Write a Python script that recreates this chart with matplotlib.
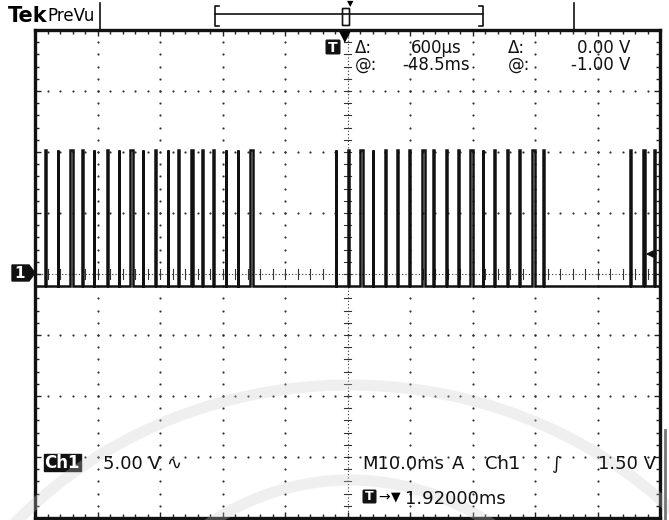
import matplotlib
matplotlib.use("Agg")
from matplotlib import pyplot as plt
from matplotlib.patches import Polygon, FancyBboxPatch, Arc
import numpy as np

pulse_starts = [-48.4, -46.4, -44.4, -42.5, -40.6, -38.5, -36.6, -34.8, -32.8,
                -30.8, -28.8, -27.1, -25.1, -23.3, -21.5, -19.5, -17.6, -15.6,
                -1.9, 0.1, 2.0, 4.0, 6.0, 7.9, 9.9, 11.9, 13.7,
                15.8, 17.7, 19.6, 21.6, 23.5, 25.5, 27.5, 29.5, 31.3,
                45.2, 47.2, 49.0]
pulse_widths = [0.12, 0.12, 0.45, 0.12, 0.12, 0.12, 0.12, 0.45, 0.12,
                0.12, 0.12, 0.12, 0.45, 0.12, 0.12, 0.12, 0.12, 0.45,
                0.12, 0.12, 0.45, 0.12, 0.12, 0.12, 0.12, 0.45, 0.12,
                0.12, 0.12, 0.45, 0.12, 0.12, 0.12, 0.12, 0.45, 0.12,
                0.12, 0.45, 0.12]
low_level = -1.0    # V
high_level = 10.2   # V

# Build the trace from the pulse list
t = [-50.0]
v = [low_level]
for s, w in zip(pulse_starts, pulse_widths):
    t += [s, s, s + w, s + w]
    v += [low_level, high_level, high_level, low_level]
t.append(50.0)
v.append(low_level)

W, H = 669, 520
fig = plt.figure(figsize=(W / 100, H / 100), dpi=100)
fig.patch.set_facecolor("white")

FONT = ["DejaVu Sans"]

# Screen axes: 10 ms/div, 5 V/div
x0, x1, y0, y1 = 35, 660, 30, 518
ax = fig.add_axes([x0 / W, 1 - y1 / H, (x1 - x0) / W, (y1 - y0) / H])
ax.set_xlim(-50, 50)
ax.set_ylim(-20, 20)
for s in ['top', 'bottom', 'left', 'right']:
    ax.spines[s].set_linewidth(2.4)
    ax.spines[s].set_color("#111111")

# Border ticks
ax.set_xticks(np.arange(-50, 51, 10))
ax.set_yticks(np.arange(-20, 21, 5))
ax.set_xticks(np.arange(-50, 51, 2), minor=True)
ax.set_yticks(np.arange(-20, 21, 1), minor=True)
ax.tick_params(which='both', direction='in', top=True, right=True,
               labelbottom=False, labelleft=False, color="#222222")
ax.tick_params(which='major', length=4, width=1)
ax.tick_params(which='minor', length=3, width=1)

# Graticule dots
dot_kw = dict(s=2.5, color="#333333", linewidths=0, zorder=1)
for gx in np.arange(-40, 41, 10):
    if gx == 0:
        continue
    ys = np.arange(-19, 20, 1)
    ax.scatter(np.full(len(ys), gx), ys, **dot_kw)
for gy in np.arange(-15, 16, 5):
    if gy == 0:
        continue
    xs = np.arange(-48, 49, 2)
    ax.scatter(xs, np.full(len(xs), gy), **dot_kw)

# Center cross with small ticks
ax.axhline(0, color="#333333", lw=0.8, ls=(0, (1, 2)), zorder=1)
ax.axvline(0, color="#333333", lw=0.8, ls=(0, (1, 2)), zorder=1)
for tx in np.arange(-48, 49, 2):
    ax.plot([tx, tx], [-0.4, 0.4], color="#333333", lw=0.8, zorder=1)
for ty in np.arange(-19, 20, 1):
    ax.plot([-0.5, 0.5], [ty, ty], color="#333333", lw=0.8, zorder=1)

# Waveform
ax.plot(t, v, color="#111111", lw=1.8, solid_joinstyle='miter', zorder=3)

# Overlay for the readouts, in pixel coordinates
ov = fig.add_axes([0, 0, 1, 1], facecolor="none")
ov.set_xlim(0, W)
ov.set_ylim(H, 0)
ov.axis("off")

txt = dict(fontsize=12, family=FONT, color="#111111", va="baseline")
txtb = dict(fontsize=13, family=FONT, color="#111111", va="baseline")

# Top status bar
ov.text(8, 22, "Tek", fontsize=15, fontweight="bold", family=FONT, va="baseline")
ov.text(47, 21, "PreVu", fontsize=12, family=FONT, va="baseline")
ov.plot([100, 100], [3, 29], color="#111111", lw=1.2)
ov.plot([574, 574], [3, 29], color="#111111", lw=1.2)
ov.plot([215, 483], [14, 14], color="#111111", lw=1.2)
ov.plot([219, 215, 215, 219], [6, 6, 26, 26], color="#111111", lw=1.2)
ov.plot([479, 483, 483, 479], [6, 6, 26, 26], color="#111111", lw=1.2)
ov.add_patch(FancyBboxPatch((343, 9), 6, 16, boxstyle="round,pad=0.5",
                            fc="white", ec="#111111", lw=1.2))
ov.text(350, 4, "▼", fontsize=6, ha="center", va="center", family=FONT)
ov.text(345, 37, "▼", fontsize=11, ha="center", va="center", family=FONT)

# Cursor readouts
ov.add_patch(FancyBboxPatch((327, 41), 12, 12, boxstyle="round,pad=0.8",
                            fc="#111111", ec="#111111"))
ov.text(333, 47.5, "T", fontsize=10, fontweight="bold", color="white",
        ha="center", va="center", family=FONT)
ov.text(355, 53, "Δ:", **txt)
ov.text(462, 53, "600µs", ha="right", **txt)
ov.text(508, 53, "Δ:", **txt)
ov.text(630, 53, "0.00 V", ha="right", **txt)
ov.text(355, 70, "@:", **txt)
ov.text(470, 70, "-48.5ms", ha="right", **txt)
ov.text(508, 70, "@:", **txt)
ov.text(630, 70, "-1.00 V", ha="right", **txt)

# Ground marker
ov.add_patch(Polygon([[12, 265], [29, 265], [35, 273], [29, 281], [12, 281]],
                     closed=True, fc="#111111", ec="#111111"))
ov.text(20, 273.5, "1", fontsize=11, fontweight="bold", color="white",
        ha="center", va="center", family=FONT)

# Trigger level arrow
ov.annotate("", xy=(643, 254), xytext=(659, 254),
            arrowprops=dict(arrowstyle="-|>", color="#111111", lw=1.2,
                            mutation_scale=10))

# Bottom readouts
ov.add_patch(FancyBboxPatch((44, 454), 36, 16, boxstyle="square,pad=0.5",
                            fc="#111111", ec="#111111"))
ov.text(62, 467.5, "Ch1", fontsize=12, fontweight="bold", color="white",
        ha="center", va="baseline", family=FONT)
ov.text(103, 469, "5.00 V", **txtb)
ov.text(166, 469, "∿", **txtb)
ov.text(362, 469, "M10.0ms", **txtb)
ov.text(452, 469, "A", **txtb)
ov.text(485, 469, "Ch1", **txtb)
ov.text(551, 469, "∫", **txtb)
ov.text(656, 469, "1.50 V", ha="right", **txtb)
ov.add_patch(FancyBboxPatch((364, 491), 11, 11, boxstyle="round,pad=0.8",
                            fc="#111111", ec="#111111"))
ov.text(369.5, 497, "T", fontsize=9, fontweight="bold", color="white",
        ha="center", va="center", family=FONT)
ov.text(378, 497, "→", fontsize=10, family=FONT, va="center")
ov.text(391, 497, "▼", fontsize=9, family=FONT, va="center")
ov.text(405, 504, "1.92000ms", **txtb)

# Faint watermark arcs
ov.add_patch(Arc((350, 800), 900, 830, theta1=200, theta2=340,
                 color="#cccccc", lw=8, alpha=0.3))
ov.add_patch(Arc((350, 800), 560, 640, theta1=205, theta2=335,
                 color="#cccccc", lw=8, alpha=0.3))

# Gray bar at right edge
ov.plot([665, 665], [430, 520], color="#777777", lw=2)

fig.savefig("out.png", dpi=100)
